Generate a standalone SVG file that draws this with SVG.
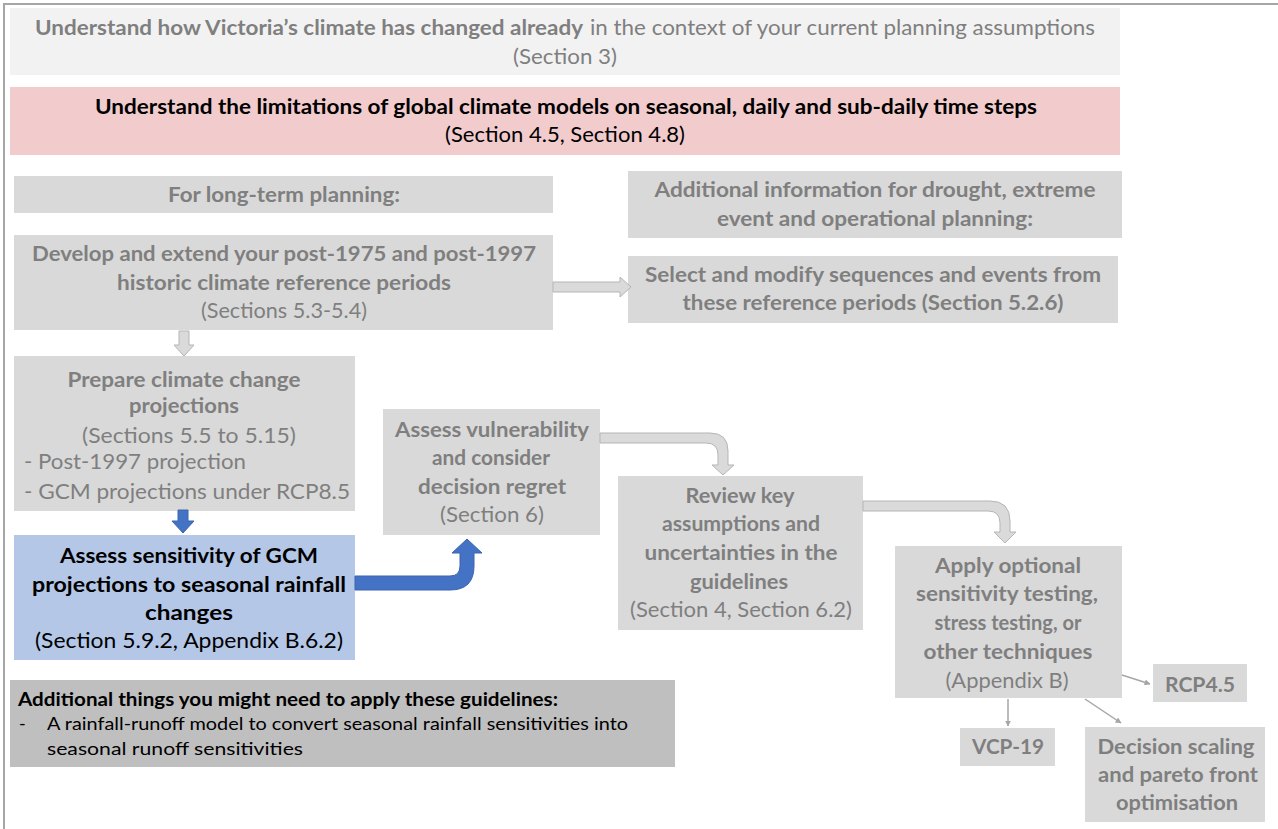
<svg xmlns="http://www.w3.org/2000/svg" width="1278" height="829" viewBox="0 0 1278 829">
<defs>
<style>
.box{fill:#d9d9d9}
.t{font-family:Lato,'Liberation Sans',sans-serif;font-size:21px;fill:#7f7f7f;text-anchor:middle}
.l{text-anchor:start}
.b{font-weight:bold}
.k{fill:#000}
.s{font-size:18px}
.ha{fill:#dadada;stroke:#b5b5b5;stroke-width:1}
.ba{fill:#4472c4;stroke:#3a64b0;stroke-width:1}
.thin{fill:none;stroke:#a6a6a6;stroke-width:1.5}
</style>
<marker id="ah" viewBox="0 0 10 10" refX="9" refY="5" markerWidth="6" markerHeight="6" orient="auto" markerUnits="userSpaceOnUse">
<path d="M0,0 L10,5 L0,10 Z" fill="#a6a6a6"/>
</marker>
</defs>
<rect width="1278" height="829" fill="#fff"/>
<path d="M4,829 V4 H1278" fill="none" stroke="#a6a6a6" stroke-width="2"/>

<g id="n-history">
<rect x="10" y="8" width="1110" height="67" fill="#f2f2f2"/>
<text class="t b l" x="35" y="35" textLength="548" lengthAdjust="spacingAndGlyphs">Understand how Victoria’s climate has changed already</text>
<text class="t l" x="590" y="35" textLength="505" lengthAdjust="spacingAndGlyphs">in the context of your current planning assumptions</text>
<text class="t" x="565" y="64" textLength="104" lengthAdjust="spacingAndGlyphs">(Section 3)</text>
</g>

<g id="n-limitations">
<rect x="10" y="87" width="1110" height="68" fill="#f2cbcd"/>
<text class="t b k" x="566" y="114" textLength="942" lengthAdjust="spacingAndGlyphs">Understand the limitations of global climate models on seasonal, daily and sub-daily time steps</text>
<text class="t k" x="565" y="142" textLength="240" lengthAdjust="spacingAndGlyphs">(Section 4.5, Section 4.8)</text>
</g>

<g id="n-longterm">
<rect class="box" x="14" y="176" width="539" height="37"/>
<text class="t b" x="284" y="202" textLength="232" lengthAdjust="spacingAndGlyphs">For long-term planning:</text>
</g>

<g id="n-additional-info">
<rect class="box" x="628" y="171" width="494" height="67"/>
<text class="t b" x="875" y="197" textLength="441" lengthAdjust="spacingAndGlyphs">Additional information for drought, extreme</text>
<text class="t b" x="875" y="226" textLength="316" lengthAdjust="spacingAndGlyphs">event and operational planning:</text>
</g>

<g id="n-develop">
<rect class="box" x="14" y="235" width="539" height="95"/>
<text class="t b" x="284" y="261" textLength="504" lengthAdjust="spacingAndGlyphs">Develop and extend your post-1975 and post-1997</text>
<text class="t b" x="284" y="290" textLength="334" lengthAdjust="spacingAndGlyphs">historic climate reference periods</text>
<text class="t" x="284" y="318" textLength="166" lengthAdjust="spacingAndGlyphs">(Sections 5.3-5.4)</text>
</g>

<g id="n-select">
<rect class="box" x="628" y="256" width="490" height="67"/>
<text class="t b" x="873" y="282" textLength="456" lengthAdjust="spacingAndGlyphs">Select and modify sequences and events from</text>
<text class="t b" x="873" y="310" textLength="381" lengthAdjust="spacingAndGlyphs">these reference periods (Section 5.2.6)</text>
</g>

<g id="n-prepare">
<rect class="box" x="14" y="356" width="341" height="155"/>
<text class="t b" x="184" y="387" textLength="233" lengthAdjust="spacingAndGlyphs">Prepare climate change</text>
<text class="t b" x="184" y="413" textLength="110" lengthAdjust="spacingAndGlyphs">projections</text>
<text class="t" x="189" y="443" textLength="214" lengthAdjust="spacingAndGlyphs">(Sections 5.5 to 5.15)</text>
<text class="t l" x="24" y="469" textLength="222" lengthAdjust="spacingAndGlyphs">- Post-1997 projection</text>
<text class="t l" x="24" y="499" textLength="326" lengthAdjust="spacingAndGlyphs">- GCM projections under RCP8.5</text>
</g>

<g id="n-sensitivity">
<rect x="14" y="535" width="341" height="125" fill="#b4c7e7"/>
<text class="t b k" x="189" y="563" textLength="258" lengthAdjust="spacingAndGlyphs">Assess sensitivity of GCM</text>
<text class="t b k" x="189" y="592" textLength="314" lengthAdjust="spacingAndGlyphs">projections to seasonal rainfall</text>
<text class="t b k" x="189" y="620" textLength="88" lengthAdjust="spacingAndGlyphs">changes</text>
<text class="t k" x="189" y="648" textLength="308" lengthAdjust="spacingAndGlyphs">(Section 5.9.2, Appendix B.6.2)</text>
</g>

<g id="n-vulnerability">
<rect class="box" x="383" y="409" width="217" height="126"/>
<text class="t b" x="492" y="437" textLength="194" lengthAdjust="spacingAndGlyphs">Assess vulnerability</text>
<text class="t b" x="491" y="465" textLength="118" lengthAdjust="spacingAndGlyphs">and consider</text>
<text class="t b" x="492" y="494" textLength="148" lengthAdjust="spacingAndGlyphs">decision regret</text>
<text class="t" x="492" y="522" textLength="104" lengthAdjust="spacingAndGlyphs">(Section 6)</text>
</g>

<g id="n-review">
<rect class="box" x="618" y="476" width="245" height="154"/>
<text class="t b" x="740" y="503" textLength="109" lengthAdjust="spacingAndGlyphs">Review key</text>
<text class="t b" x="741" y="531" textLength="158" lengthAdjust="spacingAndGlyphs">assumptions and</text>
<text class="t b" x="741" y="560" textLength="193" lengthAdjust="spacingAndGlyphs">uncertainties in the</text>
<text class="t b" x="739" y="589" textLength="98" lengthAdjust="spacingAndGlyphs">guidelines</text>
<text class="t" x="741" y="617" textLength="222" lengthAdjust="spacingAndGlyphs">(Section 4, Section 6.2)</text>
</g>

<g id="n-apply">
<rect class="box" x="895" y="546" width="227" height="152"/>
<text class="t b" x="1008" y="573" textLength="146" lengthAdjust="spacingAndGlyphs">Apply optional</text>
<text class="t b" x="1007" y="601" textLength="182" lengthAdjust="spacingAndGlyphs">sensitivity testing,</text>
<text class="t b" x="1008" y="630" textLength="147" lengthAdjust="spacingAndGlyphs">stress testing, or</text>
<text class="t b" x="1008" y="659" textLength="169" lengthAdjust="spacingAndGlyphs">other techniques</text>
<text class="t" x="1007" y="688" textLength="123" lengthAdjust="spacingAndGlyphs">(Appendix B)</text>
</g>

<g id="n-rcp45">
<rect class="box" x="1153" y="664" width="94" height="38"/>
<text class="t b" x="1200" y="692" textLength="70" lengthAdjust="spacingAndGlyphs">RCP4.5</text>
</g>

<g id="n-vcp19">
<rect class="box" x="960" y="728" width="95" height="38"/>
<text class="t b" x="1008" y="754" textLength="72" lengthAdjust="spacingAndGlyphs">VCP-19</text>
</g>

<g id="n-decision">
<rect class="box" x="1085" y="727" width="180" height="95"/>
<text class="t b" x="1176" y="754" textLength="157" lengthAdjust="spacingAndGlyphs">Decision scaling</text>
<text class="t b" x="1178" y="782" textLength="160" lengthAdjust="spacingAndGlyphs">and pareto front</text>
<text class="t b" x="1177" y="810" textLength="122" lengthAdjust="spacingAndGlyphs">optimisation</text>
</g>

<g id="n-things">
<rect x="10" y="680" width="665" height="87" fill="#bfbfbf"/>
<text class="t b k s l" x="18" y="706" textLength="540" lengthAdjust="spacingAndGlyphs">Additional things you might need to apply these guidelines:</text>
<text class="t k s l" x="19" y="730">-</text>
<text class="t k s l" x="47" y="730" textLength="581" lengthAdjust="spacingAndGlyphs">A rainfall-runoff model to convert seasonal rainfall sensitivities into</text>
<text class="t k s l" x="47" y="755" textLength="256" lengthAdjust="spacingAndGlyphs">seasonal runoff sensitivities</text>
</g>

<g id="connectors">
<path class="ha" d="M553,282 H620 V277 L631,287 L620,297 V292 H553 Z"/>
<path class="ha" d="M179,331 H189 V345 H194 L184,356 L174,345 H179 Z"/>
<path class="ba" d="M178,510 H188 V521 H194 L183,533 L172,521 H178 Z"/>
<path class="ba" d="M355,576 H450 Q460,576 460,566 V553 H452 L467,539 L482,553 H474 V566 Q474,590 450,590 H355 Z"/>
<path class="ha" d="M600,433 H710 Q728,433 728,451 V465 H734 L723,475 L712,465 H718 V455 Q718,443 706,443 H600 Z"/>
<path class="ha" d="M863,501 H990 Q1010,501 1010,521 V532 H1016 L1005,543 L994,532 H1000 V523 Q1000,511 988,511 H863 Z"/>
<line class="thin" x1="1122" y1="675" x2="1150" y2="684" marker-end="url(#ah)"/>
<line class="thin" x1="1008" y1="699" x2="1008" y2="726" marker-end="url(#ah)"/>
<line class="thin" x1="1085" y1="699" x2="1121" y2="723" marker-end="url(#ah)"/>
</g>
</svg>
